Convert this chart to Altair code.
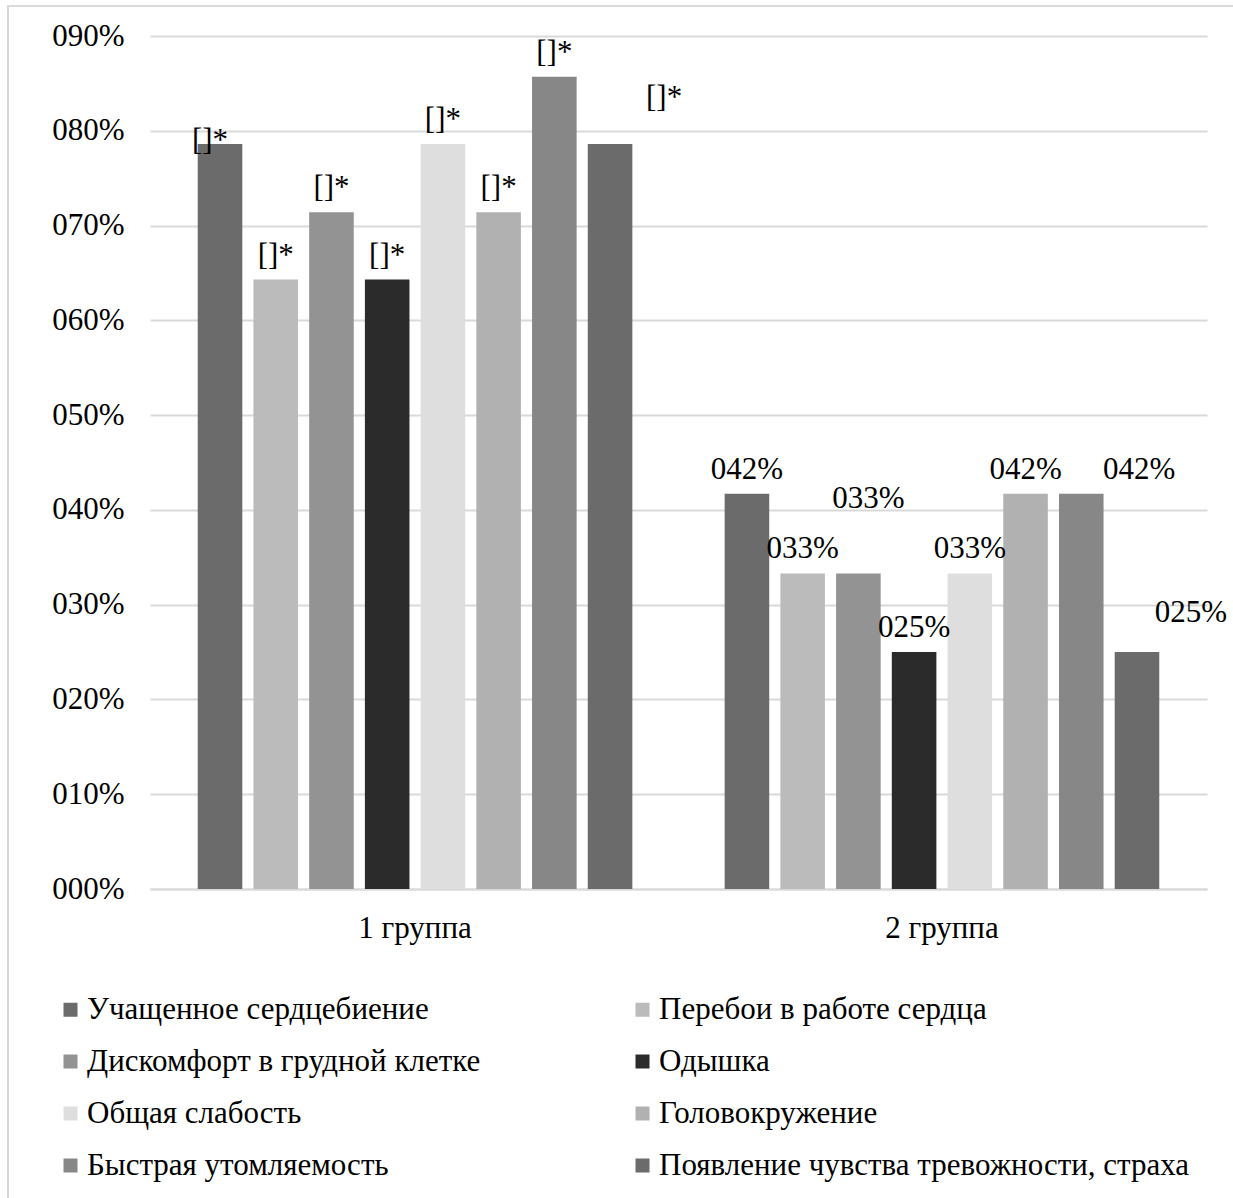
import altair as alt
import pandas as pd

groups = ["1 группа", "2 группа"]
series = [
    "Учащенное сердцебиение",
    "Перебои в работе сердца",
    "Дискомфорт в грудной клетке",
    "Одышка",
    "Общая слабость",
    "Головокружение",
    "Быстрая утомляемость",
    "Появление чувства тревожности, страха",
]
group1_values = [0.786, 0.643, 0.714, 0.643, 0.786, 0.714, 0.857, 0.786]
group2_values = [0.417, 0.333, 0.333, 0.250, 0.333, 0.417, 0.417, 0.250]
group1_labels = ["[]*"] * 8
colors = ["#6b6b6b", "#bbbbbb", "#939393", "#2b2b2b", "#dedede", "#b1b1b1", "#878787", "#6b6b6b"]

# label nudges (styling only, in pixels), keyed by (group index, series index)
label_nudge = {(0, 0): (-10, 21), (0, 7): (54, -22), (1, 2): (10, -50), (1, 6): (58, 0), (1, 7): (54, -15)}

rows = []
for gi, (g, vals) in enumerate([(groups[0], group1_values), (groups[1], group2_values)]):
    for i, s in enumerate(series):
        lab = group1_labels[i] if gi == 0 else f"{round(vals[i] * 100):03d}%"
        rows.append({"group": g, "series": s, "value": vals[i], "label": lab,
                     "nudge": f"{label_nudge.get((gi, i), (0, 0))}"})
df = pd.DataFrame(rows)

FONT = "Liberation Serif"
FS = 31

x = alt.X("group:N", sort=groups, title=None,
          scale=alt.Scale(paddingInner=0.154, paddingOuter=0.08),
          axis=alt.Axis(labelAngle=0, labelFontSize=FS, labelFont=FONT, labelColor="#000000",
                        labelPadding=24, ticks=False, domain=True, domainColor="#d9d9d9",
                        domainWidth=2, grid=False))
xoff = alt.XOffset("series:N", sort=series, scale=alt.Scale(paddingInner=0.2, paddingOuter=0.1))
y = alt.Y("value:Q", title=None,
          scale=alt.Scale(domain=[0, 0.9], nice=False),
          axis=alt.Axis(values=[i / 10 for i in range(10)], format="04.0%", labelFontSize=FS,
                        labelFont=FONT, labelColor="#000000", labelPadding=26, ticks=False,
                        domain=False, gridColor="#d9d9d9", gridWidth=2))

bars = alt.Chart(df).mark_bar().encode(
    x=x, xOffset=xoff, y=y,
    color=alt.Color("series:N", sort=series, scale=alt.Scale(domain=series, range=colors),
                    legend=alt.Legend(title=None, orient="none", legendX=-95, legendY=958,
                                      columns=2, direction="horizontal", columnPadding=146,
                                      rowPadding=20,
                                      symbolType="square", symbolSize=196, symbolStrokeWidth=0,
                                      labelFont=FONT, labelFontSize=FS, labelColor="#000000",
                                      labelLimit=700, symbolOffset=0, labelOffset=1)),
)

text_layers = []
for nudge in sorted(set(df["nudge"])):
    dx, dy = eval(nudge)
    text_layers.append(
        alt.Chart(df).transform_filter(alt.datum.nudge == nudge)
        .mark_text(baseline="bottom", dx=dx, dy=-8 + dy, font=FONT, fontSize=FS, color="#000000")
        .encode(x=x, xOffset=xoff, y=y, text="label:N")
    )

frame = alt.Chart(pd.DataFrame({"a": [0]})).mark_rect(fill=None, stroke="#d9d9d9", strokeWidth=2).encode(
    x=alt.value(-142), x2=alt.value(1090), y=alt.value(-30), y2=alt.value(1200)
)

chart = alt.layer(frame, bars, *text_layers).properties(
    width=1057, height=853,
    autosize=alt.AutoSizeParams(type="none"),
    padding={"left": 150, "top": 36, "right": 26, "bottom": 309},
    background="#ffffff",
).configure_view(stroke=None)

chart.save("out.html", embed_options={"renderer": "svg", "actions": False})
